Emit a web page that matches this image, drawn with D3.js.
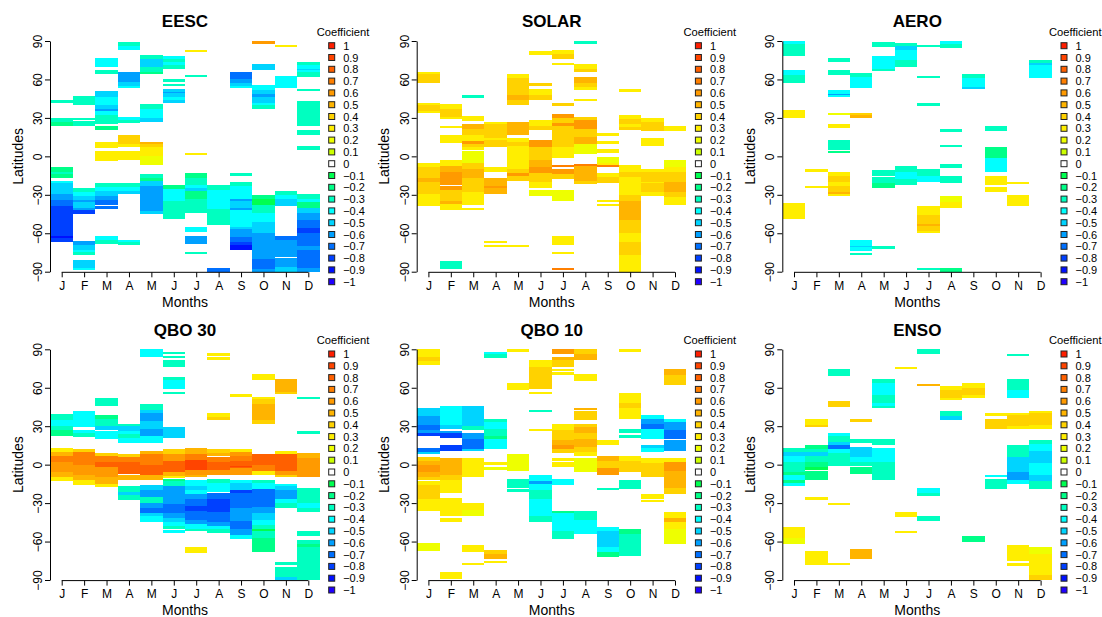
<!DOCTYPE html>
<html><head><meta charset="utf-8">
<script src="https://cdn.jsdelivr.net/npm/d3@7"></script>
<style>
body{margin:0;background:#fff;}
svg{font-family:"Liberation Sans",Arial,Helvetica,sans-serif;}
</style></head>
<body><svg id="c" width="1102" height="617"></svg>
<script>
const months = ["J","F","M","A","M","J","J","A","S","O","N","D"];
const latTicks = [-90,-60,-30,0,30,60,90];
const legendLevels = [1,0.9,0.8,0.7,0.6,0.5,0.4,0.3,0.2,0.1,0,-0.1,-0.2,-0.3,-0.4,-0.5,-0.6,-0.7,-0.8,-0.9,-1];
const legendColors = ["#FF1E00","#FF4400","#FF6000","#FF7F00","#FF9A00","#FFB400","#FFD200","#FFEE00","#EEFF00","#CCFF00","#FFFFFF",
  "#00FF50","#00FF88","#00FFC0","#00FFFF","#00D4FF","#00A0FF","#0070FF","#0040FF","#0010FF","#2000FF"];
const titles = ["EESC","SOLAR","AERO","QBO 30","QBO 10","ENSO"];

// rows: [monthIndex, latTop, latBottom, coefficient]
const eesc = [
[0,44,42,-0.3],[0,30,27,-0.3],[0,27,24,-0.2],[0,-8,-12,-0.2],[0,-12,-14,-0.3],[0,-14,-17,-0.2],
[0,-19,-21,-0.4],[0,-21,-29,-0.5],[0,-29,-34,-0.6],[0,-34,-39,-0.7],[0,-39,-62,-0.8],[0,-62,-64,-0.9],[0,-64,-67,-0.8],
[1,47,40,-0.3],[1,30,29,-0.3],[1,27.5,23.5,-0.3],[1,-25,-28,-0.3],[1,-28,-31,-0.4],[1,-31,-34,-0.5],[1,-34,-36,-0.6],
[1,-36,-40,-0.5],[1,-40,-42,-0.6],[1,-42,-45,-0.8],[1,-66,-69,-0.6],[1,-69,-73,-0.5],[1,-73,-75,-0.4],[1,-75,-77,-0.3],
[1,-81,-87,-0.5],[1,-87,-88,-0.4],
[2,77,70,-0.4],[2,67,64,-0.3],[2,51,46,-0.5],[2,46,40,-0.4],[2,40,37,-0.5],[2,37,35,-0.6],[2,35,32,-0.4],[2,32,25.5,-0.3],
[2,23.5,20.5,-0.2],[2,11.5,6.5,0.3],[2,4,-4,0.3],[2,-21,-24,-0.3],[2,-24,-27,-0.4],[2,-27,-31,-0.5],[2,-31,-34,-0.6],
[2,-34,-38,-0.7],[2,-38.5,-41,-0.7],[2,-62,-65,-0.4],[2,-65,-68,-0.3],
[3,89,86,-0.3],[3,86,83,-0.4],[3,65.5,58,-0.6],[3,58,55,-0.5],[3,55,53,-0.4],[3,30.5,28,-0.4],[3,28,26,-0.3],
[3,16.5,10,0.4],[3,10,7,0.3],[3,4,-2.5,0.3],[3,-20.5,-24,-0.3],[3,-24,-27,-0.4],[3,-27,-29,-0.5],[3,-65,-67,-0.4],[3,-67,-69,-0.3],
[4,79,76,-0.3],[4,76,70,-0.5],[4,70,65.5,-0.3],[4,65.5,64,-0.2],[4,40.5,37,-0.3],[4,37,30,-0.4],[4,30,26.5,-0.5],
[4,11.5,10,0.5],[4,10,7,0.4],[4,7,0,0.3],[4,0,-7,0.2],[4,-14,-17,-0.3],[4,-17,-19,-0.2],[4,-19,-23,-0.5],[4,-23,-43,-0.6],[4,-43,-45,-0.5],
[5,78.5,76,-0.4],[5,76,74,-0.3],[5,74,71,-0.4],[5,71,68.5,-0.3],[5,60,58.3,-0.3],[5,56.3,54.7,-0.3],
[5,52.5,50,-0.5],[5,50,49.3,-0.6],[5,49.3,46,-0.5],[5,46,44,-0.4],[5,44,41.5,-0.5],
[5,-22.5,-25.5,-0.2],[5,-25.5,-35,-0.4],[5,-35,-48.5,-0.3],
[6,83.2,81.4,0.3],[6,63.3,61.7,-0.3],[6,3,2,0.3],[6,-13,-17,-0.2],[6,-17,-22,-0.3],[6,-22,-25,-0.4],[6,-25,-27,-0.5],
[6,-27,-33,-0.2],[6,-33,-44.5,-0.3],[6,-55,-58.8,-0.4],[6,-62,-68.7,-0.6],[6,-74.4,-76.2,-0.3],
[7,-22.5,-26,-0.3],[7,-26,-41,-0.4],[7,-41,-53.5,-0.3],[7,-87,-90,-0.7],
[8,65.8,60,-0.7],[8,60,57,-0.6],[8,57,55,-0.5],[8,55,53.5,-0.4],[8,-13,-15,-0.3],[8,-20,-23,-0.3],[8,-23,-33,-0.4],
[8,-33,-35,-0.6],[8,-35,-40,-0.5],[8,-40,-42,-0.6],[8,-42,-55.5,-0.4],[8,-55.5,-57,-0.5],[8,-57,-63,-0.6],
[8,-63,-67,-0.7],[8,-67,-69,-0.8],[8,-69,-73,-0.9],
[9,90,88,0.6],[9,72.3,67,-0.5],[9,55.5,52,-0.4],[9,52,49,-0.5],[9,49,46,-0.6],[9,46,42,-0.5],[9,42,40,-0.4],[9,40,37,-0.3],
[9,-30,-33,-0.2],[9,-33,-38,-0.1],[9,-38,-44,-0.3],[9,-44,-51,-0.4],[9,-51,-60,-0.5],[9,-60,-80,-0.6],[9,-80,-88,-0.7],[9,-88,-90,-0.6],
[10,86.6,85.3,0.3],[10,62.5,53.5,-0.4],[10,-27,-30,-0.3],[10,-30,-33,-0.4],[10,-33,-39,-0.5],
[10,-62,-65,-0.7],[10,-65,-78.5,-0.6],[10,-79.3,-86,-0.6],[10,-86,-90,-0.5],
[11,74,71,-0.3],[11,71,68,-0.4],[11,68,67.3,-0.5],[11,67.3,66,-0.4],[11,66,62,-0.3],[11,52.8,51.5,-0.3],
[11,43.3,23.5,-0.3],[11,20.4,16.5,-0.3],[11,8.2,4.8,-0.3],[11,-29,-33,-0.3],[11,-33,-36,-0.4],[11,-36,-40,-0.2],
[11,-40,-44,-0.5],[11,-44,-50,-0.6],[11,-50,-56,-0.7],[11,-56,-60,-0.8],[11,-60,-70,-0.7],[11,-70,-73,-0.6],[11,-73,-87,-0.7],[11,-87,-90,-0.6]
];
const solar = [
[0,66,64,0.3],[0,64,57,0.4],[0,42,40,0.3],[0,40,35,0.4],[0,35,33.5,0.3],
[0,-5.5,-8,0.3],[0,-8,-17,0.4],[0,-17,-20,0.5],[0,-20,-29,0.4],[0,-29,-38.5,0.3],
[1,40.5,37,0.3],[1,37,31,0.4],[1,31,29,0.3],[1,24,22,0.3],[1,16.5,10.5,0.3],[1,-3,-7.5,0.3],[1,-7.5,-12,0.5],
[1,-12,-22,0.6],[1,-23,-26,0.6],[1,-26,-35,0.4],[1,-35,-37,0.5],[1,-37,-42,0.3],[1,-81.5,-88,-0.3],
[2,47.5,45.8,-0.3],[2,31.5,27.5,0.3],[2,25,21,0.5],[2,21,17,0.4],[2,17,12,0.3],[2,12,10,0.6],[2,10,7,0.4],[2,7,5,0.3],
[2,4,-5,0.2],[2,-5,-10,0.4],[2,-10,-17,0.5],[2,-17,-28,0.4],[2,-28,-38,0.3],[2,-40.5,-42,0.3],
[3,27,25,0.3],[3,25,14,0.4],[3,14,12.5,0.3],[3,12.5,7,0.4],[3,-8,-12,0.3],[3,-17,-23,0.5],[3,-23,-25,0.6],[3,-25,-29,0.5],
[3,-66,-67.5,0.3],[3,-69,-71,0.3],
[4,64.5,61,0.3],[4,61,48,0.4],[4,48,44,0.5],[4,44,40,0.4],[4,27,17,0.5],[4,14,11,0.3],[4,11,8,0.4],[4,8,-10,0.3],
[4,-10,-13,0.4],[4,-13,-15,0.6],[4,-15,-19,0.4],[4,-69,-71,0.3],
[5,82,79,0.3],[5,57.5,54.5,0.4],[5,52.5,48,0.3],[5,48,44,0.4],[5,28,24,0.3],[5,24,20.5,0.4],[5,12.5,7,0.6],[5,7,-3,0.4],
[5,-3,-8,0.5],[5,-8,-13,0.6],[5,-13,-20,0.4],[5,-20,-25,0.3],[5,-26.5,-31,0.2],
[6,83,80,0.3],[6,80,76,0.4],[6,73,71,0.3],[6,41.5,39,0.4],[6,33,30,0.6],[6,30,26,0.4],[6,26,24,0.6],[6,24,7,0.4],
[6,7,-1,0.3],[6,-7,-8,0.7],[6,-10,-14,0.6],[6,-14,-18,0.4],[6,-26.5,-35,0.2],[6,-62,-69,0.3],[6,-75,-76.5,0.3],[6,-87,-88.5,0.7],
[7,90,88,-0.3],[7,72,68,0.3],[7,68,65.5,0.4],[7,62,57,0.5],[7,57,54,0.4],[7,54,51.5,0.3],[7,44.5,43.5,0.3],[7,31,28,0.4],
[7,28,21,0.6],[7,21,15,0.4],[7,15,10,0.5],[7,10,2,0.2],[7,-6,-7.5,0.7],[7,-7.5,-19,0.5],[7,-19,-21.5,0.4],
[8,18.5,16,0.3],[8,12,10,0.3],[8,6,3,0.3],[8,-0.5,-5,0.2],[8,-5,-7,0.3],[8,-7,-8.5,0.7],[8,-13,-16,0.3],[8,-16,-20.5,0.4],
[8,-34,-36,0.3],[8,-37,-39,0.3],
[9,52.5,50.5,0.3],[9,32,29,0.3],[9,29,25,0.4],[9,25,23,0.3],[9,23,20.5,0.4],[9,-7,-12,0.3],[9,-12,-16,0.4],[9,-16,-30,0.3],
[9,-30,-35,0.4],[9,-35,-50,0.5],[9,-50,-60,0.4],[9,-60,-67,0.3],[9,-67,-77,0.4],[9,-77,-90,0.3],
[10,30,27,0.3],[10,27,19.5,0.4],[10,14,8,0.3],[10,-10,-12,0.3],[10,-12,-20,0.4],[10,-20,-21,0.3],[10,-21,-28,0.4],[10,-28,-31,0.3],
[11,23.5,20,0.3],[11,-3,-8,0.2],[11,-8,-12,0.3],[11,-12,-20,0.4],[11,-20,-28,0.5],[11,-28,-32,0.4],[11,-32,-38,0.3]
];
const aero = [
[0,90,88,-0.4],[0,88,78,-0.3],[0,67,63.5,-0.4],[0,63.5,57,-0.3],[0,36,30,0.3],[0,-36.5,-49,0.3],
[1,-9.5,-12.5,0.3],[1,-23.5,-25,0.3],
[2,77,74,-0.3],[2,67,63.5,-0.3],[2,52,49,-0.4],[2,49,48,-0.6],[2,48,46,-0.4],[2,34,32,0.2],[2,25.5,22,0.3],[2,13,5,-0.3],
[2,4.5,3,-0.2],[2,-12.5,-15,0.3],[2,-15,-20,0.4],[2,-20,-23,0.3],[2,-23,-28,0.4],[2,-28,-29,0.5],[2,-29,-31,0.3],
[3,65,62,-0.3],[3,62,53.5,-0.4],[3,34,32,0.4],[3,32,30,0.5],[3,-65.5,-70,-0.4],[3,-70,-71,-0.5],[3,-71,-73.5,-0.4],[3,-75.5,-77,-0.3],
[4,89,85,-0.3],[4,78,68,-0.4],[4,68,67,-0.3],[4,-11,-15,-0.3],[4,-16,-21,-0.3],[4,-21,-25,-0.2],[4,-70,-72,-0.3],
[5,88.5,86,-0.3],[5,86,83,-0.5],[5,83,75.5,-0.4],[5,75.5,74.8,-0.6],[5,74.8,70,-0.3],[5,-7.5,-12,-0.3],[5,-12,-18,-0.4],[5,-18,-22,-0.3],
[6,87,86,-0.3],[6,63,61,-0.3],[6,42,39,-0.3],[6,-10,-15,-0.3],[6,-15,-20,-0.4],[6,-39,-46,0.3],[6,-46,-53,0.4],
[6,-53,-54,0.5],[6,-54,-58,0.4],[6,-58,-59.5,0.3],[6,-87,-88.5,-0.3],
[7,90,88,-0.4],[7,88,84.5,-0.3],[7,21,19,-0.3],[7,9,8,-0.3],[7,-6,-9,-0.3],[7,-15,-21,-0.3],[7,-31,-36,0.2],[7,-36,-40,0.3],[7,-87,-90,-0.2],
[8,64,61,-0.3],[8,61,54,-0.4],[8,54,53,-0.5],
[9,23.5,20,-0.3],[9,7,-1,-0.2],[9,-1,-12,-0.4],[9,-15,-22,0.3],[9,-24,-28,0.3],
[10,-20,-21.5,0.3],[10,-30,-39,0.3],
[11,75,73,-0.3],[11,73,71,-0.5],[11,71,61,-0.4]
];
const qbo30 = [
[0,39.5,35,-0.3],[0,35,30,-0.4],[0,30,27,-0.3],[0,27,22,-0.2],[0,13,10,0.3],[0,10,7,0.5],[0,7,2,0.7],[0,2,-6,0.6],[0,-6,-10,0.5],[0,-10,-13,0.3],
[1,42,29,-0.4],[1,27,25,-0.4],[1,25,21.5,-0.3],[1,12.5,10,0.4],[1,10,0,0.7],[1,0,-8,0.6],[1,-8,-12,0.5],[1,-12,-16,0.3],
[2,52,46,-0.3],[2,39,36,-0.2],[2,36,30,-0.3],[2,30,27,-0.5],[2,26,20,-0.4],[2,9,7,0.4],[2,7,2,0.7],[2,2,-2,0.8],[2,-2,-10,0.6],[2,-10,-15,0.5],[2,-15,-17.5,0.3],
[3,32,30,-0.3],[3,30,26,-0.5],[3,26,24,-0.4],[3,24,21,-0.3],[3,21,17,-0.4],[3,8,6,0.4],[3,6,2,0.7],[3,2,-7,0.8],[3,-8,-12,0.5],
[3,-17,-21,-0.3],[3,-21,-24,-0.5],[3,-24,-27.5,-0.3],
[4,90,84,-0.4],[4,47,43,-0.3],[4,43,40,-0.5],[4,40,34,-0.6],[4,34,28,-0.5],[4,28,22,-0.6],[4,22,17,-0.4],[4,11,8,0.5],[4,8,0,0.7],
[4,0,-8,0.8],[4,-8,-12,0.5],[4,-16,-20,-0.5],[4,-20,-25,-0.6],[4,-25,-30,-0.3],[4,-30,-34,-0.6],[4,-34,-38,-0.7],[4,-38,-40,-0.5],[4,-40,-45,-0.4],
[5,88,86,-0.3],[5,85,84,-0.3],[5,82,76,-0.3],[5,68,66,-0.3],[5,66,59,-0.4],[5,57,55,-0.3],[5,29.5,20.5,-0.5],[5,12,8,0.4],[5,8,3,0.6],
[5,3,-6,0.8],[5,-6,-9,0.5],[5,-9,-10,0.3],[5,-11,-13,-0.2],[5,-13,-17,-0.3],[5,-17,-31,-0.6],[5,-31,-38,-0.7],[5,-38,-42,-0.6],
[5,-42,-45,-0.5],[5,-45,-48,-0.4],[5,-48,-50,-0.3],[5,-51,-53,-0.4],
[6,13,8,0.5],[6,8,4,0.7],[6,4,-4,0.9],[6,-4,-8,0.6],[6,-8,-9,0.5],[6,-12,-17,-0.4],[6,-17,-20,-0.5],[6,-20,-23,-0.4],[6,-23,-27,-0.6],
[6,-27,-32,-0.7],[6,-32,-36,-0.8],[6,-36,-43,-0.7],[6,-43,-46,-0.6],[6,-46,-50,-0.4],[6,-50,-52,-0.3],[6,-64,-69,0.3],
[7,87,85,0.3],[7,84,82,0.3],[7,40,37,0.3],[7,37,35,0.4],[7,12,9,0.4],[7,9,7,0.5],[7,6,2,0.7],[7,2,-4,0.8],[7,-4,-8,0.6],
[7,-11,-14,-0.3],[7,-14,-21,-0.4],[7,-22,-27,-0.7],[7,-27,-37,-0.8],[7,-37,-45,-0.7],[7,-45,-48,-0.6],[7,-48,-50,-0.4],[7,-50,-53,-0.3],
[8,55,53,0.3],[8,12,10,0.3],[8,10,7,0.6],[8,7,3,0.7],[8,3,-1,0.8],[8,-1,-2,0.9],[8,-2,-3,0.8],[8,-3,-8,0.6],[8,-12,-14,-0.4],
[8,-14,-20,-0.5],[8,-20,-22,-0.8],[8,-22,-34,-0.7],[8,-34,-44,-0.6],[8,-44,-50,-0.7],[8,-50,-55,-0.6],[8,-55,-58,-0.4],
[9,71,66,0.3],[9,53,51,0.3],[9,51,47,0.4],[9,47,35,0.5],[9,35,32,0.4],[9,8,0,0.8],[9,0,-5,0.7],[9,-5,-8,0.3],[9,-12,-14,-0.3],
[9,-14,-19,-0.4],[9,-19,-33,-0.7],[9,-33,-38,-0.6],[9,-38,-43,-0.5],[9,-43,-47,-0.4],[9,-47,-50,-0.3],[9,-50,-52,-0.1],[9,-52,-57,-0.3],[9,-57,-68,-0.2],
[10,67,57,0.5],[10,57,55,0.4],[10,11,8,0.3],[10,8,-5,0.8],[10,-5,-8,0.6],[10,-8,-10,0.4],[10,-15,-17,-0.4],[10,-17,-20,-0.5],
[10,-20,-27,-0.6],[10,-27,-30,-0.4],[10,-30,-34,-0.3],[10,-76,-78,-0.3],[10,-80,-88,-0.3],[10,-88,-90,-0.5],
[11,53,51,-0.3],[11,26,24,-0.3],[11,9,5,0.5],[11,5,-10,0.6],[11,-18,-30,-0.3],[11,-30,-34,-0.4],[11,-34,-37,-0.3],
[11,-52,-56,-0.3],[11,-59,-62,-0.3],[11,-62,-64,-0.2],[11,-64,-90,-0.3]
];
const qbo10 = [
[0,90,84,0.3],[0,84,81,0.4],[0,81,78,0.3],[0,44,38,-0.5],[0,38,31,-0.6],[0,31,27,-0.7],[0,27,25,-0.6],[0,25,22,-0.8],[0,13,10,-0.7],
[0,10,9,-0.5],[0,6,3,0.4],[0,3,0,0.5],[0,0,-6,0.6],[0,-6,-10,0.5],[0,-10,-12,0.4],[0,-13,-16,0.3],[0,-16,-27,0.4],[0,-27,-36,0.3],[0,-61,-67,0.2],
[1,46,31,-0.4],[1,31,28,-0.5],[1,26.5,25,-0.6],[1,25,21,-0.8],[1,15,11,-0.8],[1,5,-8,0.5],[1,-8,-12,0.4],[1,-12,-22,0.3],
[1,-26,-40,0.3],[1,-42,-44.5,0.3],[1,-84,-86.5,0.3],[1,-87,-89,0.3],
[2,46,30,-0.5],[2,30,27,-0.3],[2,25,20,-0.6],[2,20,12,-0.7],[2,12,11,-0.5],[2,5,-10,0.3],[2,-30,-35,0.3],[2,-35,-40,0.2],
[2,-63,-68.5,0.3],[2,-77,-78.5,0.3],
[3,88,86,-0.4],[3,86,83.5,-0.3],[3,36,33,-0.3],[3,33,28,-0.4],[3,28,22,-0.3],[3,22,20,-0.2],[3,20,12,-0.4],[3,2,0,0.3],[3,-1.5,-4,0.2],
[3,-66.5,-70,0.4],[3,-70,-74,0.5],[3,-75.5,-77,0.3],
[4,90,88,0.3],[4,64,58,0.3],[4,8,-5,0.2],[4,-11.5,-18,-0.3],[4,-19,-21.5,-0.3],
[5,82,76,0.3],[5,76,59,0.4],[5,57,55,0.3],[5,43,41,-0.3],[5,28,27,0.3],[5,-8,-13,-0.4],[5,-13,-15,-0.6],[5,-15,-20,-0.4],
[5,-20,-27,-0.3],[5,-27,-40,-0.4],[5,-40,-45,-0.3],
[6,90,86,0.6],[6,84,82,0.5],[6,82,76,0.4],[6,75,73,0.3],[6,72,70,0.3],[6,32,27,0.3],[6,27,19,0.4],[6,19,15,0.5],[6,15,12,0.6],
[6,12,9,0.4],[6,5,3,0.3],[6,2,-2,0.3],[6,-11,-16,-0.4],[6,-36,-38,-0.2],[6,-38,-52,-0.4],[6,-52,-58,-0.3],
[7,90,86,0.4],[7,86,82,0.5],[7,71,65,0.3],[7,44.5,43.5,0.5],[7,42,35,0.4],[7,32,29,0.4],[7,29,25,0.5],[7,25,20,0.4],[7,20,14,0.5],
[7,14,10,0.4],[7,10,7,0.3],[7,5,-6,0.2],[7,-36,-43,-0.3],[7,-43,-54,-0.4],
[8,19,15,0.3],[8,7,3,0.5],[8,3,-3,0.4],[8,-3,-8,0.6],[8,-18,-19.5,-0.3],[8,-49,-52,-0.4],[8,-52,-64,-0.5],[8,-64,-68,-0.4],[8,-68,-72,-0.2],
[9,90,88,0.3],[9,56,48,0.3],[9,48,44,0.4],[9,44,36,0.3],[9,28,25,-0.3],[9,23,21,-0.3],[9,7,3,0.3],[9,3,-6,0.4],[9,-12,-19,-0.3],
[9,-50,-54,-0.2],[9,-54,-71,-0.3],
[10,39,36,-0.4],[10,36,32,-0.6],[10,32,28,-0.7],[10,28,20,-0.4],[10,15,13,-0.5],[10,13,10,-0.4],[10,5,1,0.3],[10,1,-10,0.4],
[10,-23,-27,0.3],[10,-27.5,-28.5,0.3],
[11,75,70,0.5],[11,70,62,0.4],[11,36,33,-0.4],[11,33,27,-0.6],[11,27,20,-0.7],[11,19,11,-0.6],[11,5,2,0.3],[11,2,-5,0.6],
[11,-5,-18,0.5],[11,-18,-23,0.4],[11,-37,-42,0.3],[11,-42,-45,0.5],[11,-45,-50,0.3],[11,-50,-62,0.2]
];
const enso = [
[0,13,10,-0.3],[0,10,7,-0.5],[0,7,2,-0.4],[0,2,-6,-0.3],[0,-6,-8,-0.2],[0,-8,-12,-0.4],[0,-12,-14,-0.2],[0,-14,-17,-0.4],[0,-49,-57,0.3],[0,-57,-62,0.2],
[1,36,31,0.3],[1,31,29,0.4],[1,15,12,-0.2],[1,12,10,-0.3],[1,10,7,-0.5],[1,7,2,-0.3],[1,2,-2,-0.2],[1,-2,-4,-0.1],[1,-5,-12,-0.2],
[1,-25,-27.5,0.3],[1,-67,-78,0.3],
[2,74.5,69.5,-0.3],[2,50,45,0.4],[2,25,22,-0.4],[2,22,18,-0.3],[2,18,15,-0.5],[2,15,12,-0.7],[2,12,9,-0.4],[2,9,-1,-0.3],
[2,-30,-31.5,0.3],[2,-77,-78.5,0.3],
[3,36,33.5,0.4],[3,20,17,-0.3],[3,14,6,-0.5],[3,6,2,-0.4],[3,2,-1,-0.3],[3,-2,-7,-0.2],[3,-66,-73.5,0.5],
[4,67,64,-0.3],[4,64,54,-0.4],[4,54,48,-0.3],[4,48,46,-0.4],[4,46,44,-0.3],[4,20,15,-0.3],[4,13,2,-0.4],[4,2,-12,-0.3],
[5,76,74.5,0.3],[5,-37,-41,0.3],[5,-52,-53.5,0.3],
[6,90,86,-0.3],[6,63,61.5,0.5],[6,-18,-22,-0.4],[6,-22,-24.5,-0.3],[6,-40,-44,-0.3],
[7,61,58,0.3],[7,58,52,0.4],[7,52,51,0.3],[7,42,38,-0.3],[7,38,35,-0.5],
[8,64,60,0.3],[8,60,54,0.4],[8,54,52,0.3],[8,-56,-60,-0.2],
[9,40,38,0.3],[9,36,28,0.4],[9,-8,-9,-0.4],[9,-11,-19,-0.3],
[10,86,84.5,-0.3],[10,67,58,-0.3],[10,58,52,-0.4],[10,40,39,0.3],[10,39,30,0.4],[10,30,28,0.3],[10,15,6,-0.3],[10,6,-6,-0.5],
[10,-6,-12,-0.6],[10,-12,-15,-0.4],[10,-63,-75,0.3],[10,-77,-79,0.3],
[11,42,40,0.3],[11,40,31,0.4],[11,31,28,0.3],[11,19,16,-0.3],[11,16,11,-0.4],[11,11,1,-0.5],[11,1,-8,-0.4],[11,-8,-13,-0.5],
[11,-13,-19,-0.3],[11,-64,-70,0.2],[11,-70,-86,0.3],[11,-86,-90,0.4]
];
const panelData = [eesc, solar, aero, qbo30, qbo10, enso];

const svg = d3.select("#c");
const colOff = [0, 366.7, 732.3];
const rowOff = [0, 308.3];
const color = d3.scaleQuantize().domain([-1.05, 1.05]).range(legendColors.slice().reverse());
const minus = s => String(s).replace("-", "\u2212");

panelData.forEach((data, p) => {
  const ox = colOff[p % 3], oy = rowOff[Math.floor(p / 3)];
  const g = svg.append("g");
  const x = d3.scaleLinear().domain([0, 11]).range([ox + 61.7, ox + 308.3]);
  const y = d3.scaleLinear().domain([-90, 90]).range([oy + 271.7, oy + 41]);

  g.append("g").selectAll("rect").data(data).join("rect")
    .attr("x", d => x(d[0] - 0.5))
    .attr("width", d => x(d[0] + 0.5) - x(d[0] - 0.5))
    .attr("y", d => y(d[1]))
    .attr("height", d => Math.max(2, y(d[2]) - y(d[1])))
    .attr("fill", d => color(d[3]))
    .attr("shape-rendering", "crispEdges");

  // y axis
  const ya = g.append("g").attr("transform", `translate(${ox + 50},0)`)
    .call(d3.axisLeft(y).tickValues(latTicks).tickSize(5).tickSizeOuter(0).tickFormat(minus));
  ya.select(".domain").attr("stroke", "#000");
  ya.selectAll(".tick line").attr("stroke", "#000");
  ya.selectAll(".tick text").attr("x", null).attr("dy", null)
    .attr("transform", "translate(-12,0) rotate(-90)")
    .attr("text-anchor", "middle").attr("dominant-baseline", "central")
    .attr("font-size", 12).attr("fill", "#000").style("font-family", "'Liberation Sans',Arial,sans-serif");

  // x axis
  const xa = g.append("g").attr("transform", `translate(0,${oy + 272.3})`)
    .call(d3.axisBottom(x).tickValues(d3.range(12)).tickSize(5).tickSizeOuter(0).tickFormat(i => months[i]));
  xa.select(".domain").remove();
  xa.append("line").attr("x1", x(0)).attr("x2", x(11)).attr("stroke", "#000");
  xa.selectAll(".tick line").attr("stroke", "#000");
  xa.selectAll(".tick text").attr("y", 13.7).attr("dy", null).attr("dominant-baseline", "central")
    .attr("font-size", 12).attr("fill", "#000").style("font-family", "'Liberation Sans',Arial,sans-serif");

  const cx = (x(-0.5) + x(11.5)) / 2;
  g.append("text").attr("x", cx).attr("y", oy + 21.7).attr("text-anchor", "middle")
    .attr("dominant-baseline", "central").attr("font-size", 17).attr("font-weight", "bold").text(titles[p]);
  g.append("text").attr("x", cx).attr("y", oy + 301.5).attr("text-anchor", "middle")
    .attr("dominant-baseline", "central").attr("font-size", 14).text("Months");
  g.append("text").attr("transform", `translate(${ox + 17.5},${(y(90) + y(-90)) / 2}) rotate(-90)`)
    .attr("text-anchor", "middle").attr("dominant-baseline", "central").attr("font-size", 14).text("Latitudes");

  // legend
  const lg = g.append("g");
  lg.append("text").attr("x", ox + 316.7).attr("y", oy + 31.7).attr("dominant-baseline", "central")
    .attr("font-size", 11.2).text("Coefficient");
  const items = lg.selectAll("g.item").data(legendLevels).join("g")
    .attr("transform", (d, i) => `translate(${ox + 331.7},${oy + 45.7 + i * 11.8})`);
  items.append("rect").attr("x", -3).attr("y", -3).attr("width", 6).attr("height", 6)
    .attr("fill", d => color(d)).attr("stroke", "#222").attr("stroke-width", 1);
  items.append("text").attr("x", 11.5).attr("dominant-baseline", "central").attr("font-size", 11)
    .text(d => minus(d));
});
</script></body></html>
